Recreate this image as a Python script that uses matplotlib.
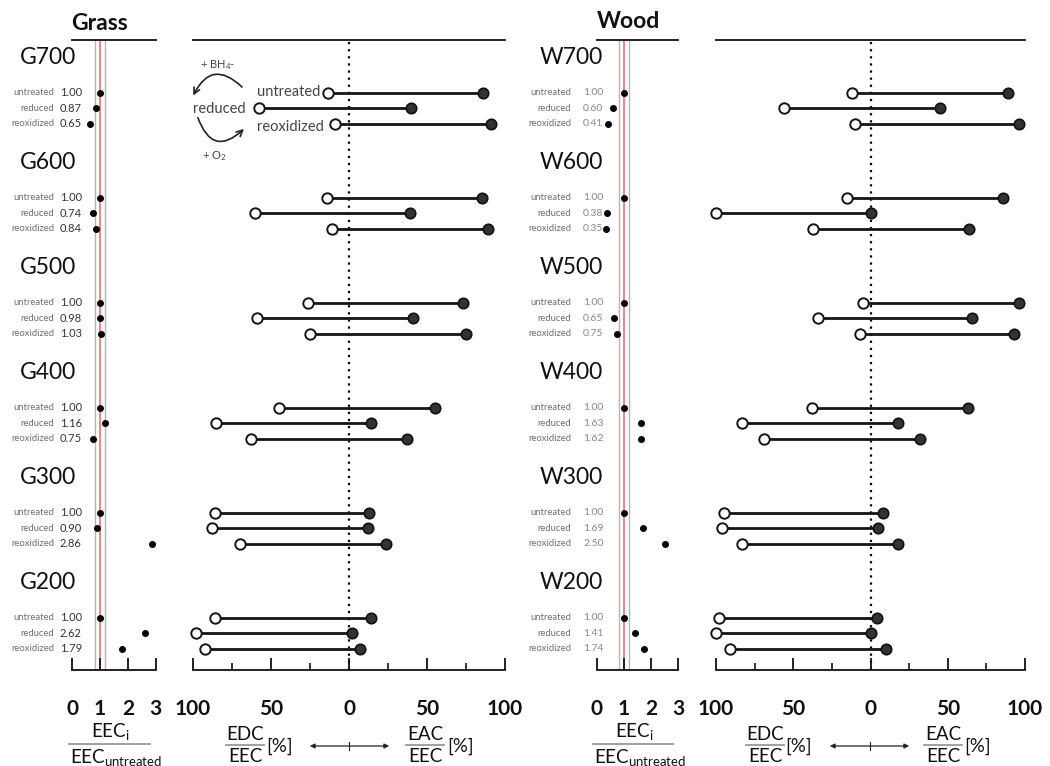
import matplotlib
matplotlib.use("Agg")
import matplotlib.pyplot as plt
from matplotlib.patches import FancyArrowPatch
from matplotlib.lines import Line2D
from matplotlib.ticker import FixedLocator, FixedFormatter

plt.rcParams['font.family'] = ['Lato', 'DejaVu Sans']
plt.rcParams['mathtext.fontset'] = 'custom'
plt.rcParams['mathtext.rm'] = 'Lato'
plt.rcParams['mathtext.it'] = 'Lato:italic'
plt.rcParams['mathtext.bf'] = 'Lato:bold'

# ---------------- data ----------------
treatments = ['untreated', 'reduced', 'reoxidized']

grass_names = ['G700', 'G600', 'G500', 'G400', 'G300', 'G200']
grass_ratio = [[1.00, 0.87, 0.65], [1.00, 0.74, 0.84], [1.00, 0.98, 1.03],
               [1.00, 1.16, 0.75], [1.00, 0.90, 2.86], [1.00, 2.62, 1.79]]
grass_edc = [[13.5, 58, 9], [14, 60, 11], [26, 59, 25],
             [45, 85, 63], [86, 88, 70], [86, 98, 92]]
grass_eac = [[86, 40, 91], [85, 39, 89], [73, 41, 75],
             [55, 14, 37], [13, 12, 24], [14, 2, 7]]

wood_names = ['W700', 'W600', 'W500', 'W400', 'W300', 'W200']
wood_ratio = [[1.00, 0.60, 0.41], [1.00, 0.38, 0.35], [1.00, 0.65, 0.75],
              [1.00, 1.63, 1.62], [1.00, 1.69, 2.50], [1.00, 1.41, 1.74]]
wood_edc = [[12, 56, 10], [15, 100, 37], [5, 34, 7],
            [38, 83, 69], [95, 96, 83], [98, 100, 91]]
wood_eac = [[89, 45, 96], [86, 0, 64], [96, 66, 93],
            [63, 18, 32], [8, 5, 18], [4, 0, 10]]

ratio_ticks = [0, 1, 2, 3]
pct_ticks = [-100, -50, 0, 50, 100]
pct_labels = ['100', '50', '0', '50', '100']

# ---------------- layout ----------------
W, H = 1050, 766
fig = plt.figure(figsize=(W / 100, H / 100), dpi=100)
TOP, BOT = 40, 670


def fx(x):
    return x / W


def fy(y):
    return 1 - y / H


def add_ax(x0, x1):
    ax = fig.add_axes([fx(x0), fy(BOT), (x1 - x0) / W, (BOT - TOP) / H])
    ax.set_ylim(BOT, TOP)
    for s in ['left', 'right']:
        ax.spines[s].set_visible(False)
    for s in ['top', 'bottom']:
        ax.spines[s].set_linewidth(1.3)
        ax.spines[s].set_color('#111111')
    ax.set_yticks([])
    ax.patch.set_alpha(0)
    return ax


def row_y(g, r):
    return 92.5 + g * 105 + r * 15.6


def draw_ratio(ax, ratios):
    ax.set_xlim(0, 3)
    ax.set_xticks(ratio_ticks)
    ax.set_xticklabels([str(t) for t in ratio_ticks], fontsize=15,
                       fontweight='bold')
    ax.tick_params(axis='x', direction='in', length=9, width=1.3, pad=21,
                   colors='#111111')
    ax.axvline(0.82, color='#b5b5b5', lw=1.0, zorder=1)
    ax.axvline(1.18, color='#b5b5b5', lw=1.0, zorder=1)
    ax.axvline(1.0, color='#f07a7a', lw=1.3, zorder=1)
    for g, grp in enumerate(ratios):
        for r, v in enumerate(grp):
            ax.plot(v, row_y(g, r), 'o', color='black', ms=4, zorder=3,
                    clip_on=False)


def draw_dumbbell(ax, edc, eac):
    ax.set_xlim(-100, 100)
    ax.xaxis.set_major_locator(FixedLocator(pct_ticks))
    ax.xaxis.set_major_formatter(FixedFormatter(pct_labels))
    ax.xaxis.set_minor_locator(FixedLocator([-75, -25, 25, 75]))
    ax.tick_params(axis='x', which='major', direction='in', length=9,
                   width=1.3, pad=21, labelsize=15, colors='#111111')
    for lab in ax.get_xticklabels():
        lab.set_fontweight('bold')
    ax.tick_params(axis='x', which='minor', direction='in', length=5,
                   width=1.2, colors='#111111')
    ax.axvline(0, color='black', lw=1.6, ls=(0, (1, 2.2)), zorder=1)
    for g in range(len(edc)):
        for r in range(3):
            y = row_y(g, r)
            ax.plot([-edc[g][r], eac[g][r]], [y, y], color='#151515',
                    lw=2.0, zorder=2, solid_capstyle='butt', clip_on=False)
            ax.plot(-edc[g][r], y, 'o', ms=7.5, mfc='white', mec='#151515',
                    mew=1.4, zorder=3, clip_on=False)
            ax.plot(eac[g][r], y, 'o', ms=7.5, mfc='#333333', mec='#111111',
                    mew=1.2, zorder=3, clip_on=False)


axg_r = add_ax(72.3, 155.7)
axg_m = add_ax(193, 505)
axw_r = add_ax(596.7, 678.3)
axw_m = add_ax(716, 1025)

draw_ratio(axg_r, grass_ratio)
draw_ratio(axw_r, wood_ratio)
draw_dumbbell(axg_m, grass_edc, grass_eac)
draw_dumbbell(axw_m, wood_edc, wood_eac)

# panel titles
fig.text(fx(100), fy(23), 'Grass', ha='center', va='center', fontsize=16.5,
         fontweight='bold', color='#111111')
fig.text(fx(628), fy(22), 'Wood', ha='center', va='center', fontsize=16.5,
         fontweight='bold', color='#111111')

# group titles and row labels
for names, ratios, xt, xl, xv, vcol, vsize in [
        (grass_names, grass_ratio, 20, 54, 60, '#333333', 8),
        (wood_names, wood_ratio, 540, 571, 583, '#888888', 7.5)]:
    for g, name in enumerate(names):
        fig.text(fx(xt), fy(row_y(g, 0) - 35), name, ha='left', va='center',
                 fontsize=16.5, color='#111111')
        for r, t in enumerate(treatments):
            y = row_y(g, r)
            fig.text(fx(xl), fy(y), t, ha='right', va='center', fontsize=6.8,
                     color='#707070')
            fig.text(fx(xv), fy(y), f'{ratios[g][r]:.2f}', ha='left',
                     va='center', fontsize=vsize, color=vcol)

# legend annotation in G700 panel
fig.text(fx(257), fy(91.5), 'untreated', ha='left', va='center', fontsize=10.5,
         color='#444444')
fig.text(fx(246), fy(109), 'reduced', ha='right', va='center', fontsize=10.5,
         color='#444444')
fig.text(fx(257), fy(127), 'reoxidized', ha='left', va='center', fontsize=10.5,
         color='#444444')
fig.text(fx(200), fy(65), r'+ BH$_4$-', ha='left', va='center', fontsize=8,
         color='#444444')
fig.text(fx(202), fy(156), r'+ O$_2$', ha='left', va='center', fontsize=8,
         color='#444444')
a1 = FancyArrowPatch((fx(244), fy(89)), (fx(192), fy(98)),
                     transform=fig.transFigure,
                     connectionstyle='arc3,rad=0.72', arrowstyle='->',
                     mutation_scale=11, lw=1.2, color='#222222')
a2 = FancyArrowPatch((fx(197), fy(115)), (fx(246), fy(127)),
                     transform=fig.transFigure,
                     connectionstyle='arc3,rad=0.8', arrowstyle='->',
                     mutation_scale=11, lw=1.2, color='#222222')
fig.add_artist(a1)
fig.add_artist(a2)


# bottom axis labels
def hline(x0, x1, y, color='#999999', lw=1.3):
    fig.add_artist(Line2D([fx(x0), fx(x1)], [fy(y), fy(y)],
                          transform=fig.transFigure, color=color, lw=lw))


def ratio_label(x0, x1, num_c, den_l):
    fig.text(fx(num_c), fy(731), r'$\mathrm{EEC_i}$', ha='center',
             va='center', fontsize=13.5, color='#111111')
    hline(x0, x1, 744)
    fig.text(fx(den_l), fy(757), r'$\mathrm{EEC_{untreated}}$', ha='left',
             va='center', fontsize=13.5, color='#111111')


def pct_label(edc_c, edc_p, a0, a1x, a_c, eac_c, eac_p):
    for c, num, p in [(edc_c, 'EDC', edc_p), (eac_c, 'EAC', eac_p)]:
        fig.text(fx(c), fy(735), num, ha='center', va='center', fontsize=13.5,
                 color='#111111')
        hline(c - 19, c + 19, 745)
        fig.text(fx(c), fy(757), 'EEC', ha='center', va='center',
                 fontsize=13.5, color='#111111')
        fig.text(fx(p), fy(746), '[%]', ha='left', va='center', fontsize=13.5,
                 color='#111111')
    fig.add_artist(FancyArrowPatch((fx(a0), fy(746)), (fx(a1x), fy(746)),
                                   transform=fig.transFigure,
                                   arrowstyle='<|-|>', mutation_scale=7,
                                   lw=0.9, color='#222222'))
    fig.add_artist(Line2D([fx(a_c), fx(a_c)], [fy(742), fy(750)],
                          transform=fig.transFigure, color='#222222', lw=0.8))


ratio_label(69, 150, 110, 70)
ratio_label(593, 673, 634, 594)
pct_label(245, 266, 307, 392, 349, 425, 447)
pct_label(765, 785, 827, 912, 870, 943, 964)

fig.savefig('out.png', dpi=100)
